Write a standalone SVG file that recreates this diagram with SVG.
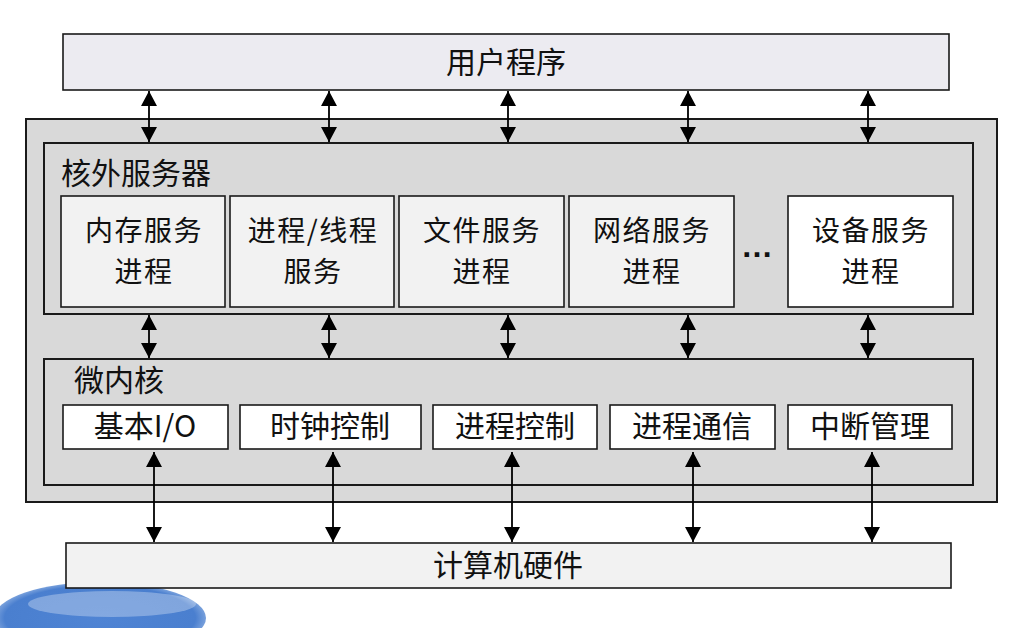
<svg xmlns="http://www.w3.org/2000/svg" width="1034" height="628" viewBox="0 0 1034 628">
<defs>
<style>
.t{font-family:"Noto Sans CJK SC","Noto Sans",sans-serif;font-size:30px;fill:#111;text-anchor:middle}
.t2{font-family:"Noto Sans CJK SC","Noto Sans",sans-serif;font-size:28px;fill:#111;text-anchor:middle;letter-spacing:1.5px}
.tl{font-family:"Noto Sans CJK SC","Noto Sans",sans-serif;font-size:30px;fill:#111}
.bx{stroke:#1a1a1a;stroke-width:2}
.sv{fill:#f2f2f2;stroke:#1a1a1a;stroke-width:1.6}
.wb{fill:#ffffff;stroke:#1a1a1a;stroke-width:1.6}
.ar{stroke:#000;stroke-width:1.8;fill:none;marker-start:url(#ah);marker-end:url(#ah)}
</style>
<marker id="ah" viewBox="0 0 15 16" refX="15" refY="8" markerWidth="15" markerHeight="16" markerUnits="userSpaceOnUse" orient="auto-start-reverse">
<path d="M0,0 L15,8 L0,16 z" fill="#000"/>
</marker>
<radialGradient id="blob" cx="0.5" cy="0.5" r="0.6">
<stop offset="0" stop-color="#4f84d4"/>
<stop offset="0.75" stop-color="#4a7fcf"/>
<stop offset="1" stop-color="#d5e3f5"/>
</radialGradient>
</defs>

<g id="decor">
<ellipse cx="100" cy="618" rx="106" ry="36" fill="url(#blob)"/>
<ellipse cx="112" cy="604" rx="84" ry="13" fill="#ffffff" opacity="0.3"/>
</g>

<g id="user">
<rect x="63" y="34" width="886" height="56" fill="#ecebf1" stroke="#1a1a1a" stroke-width="1.6"/>
<text class="t" x="506" y="73">用户程序</text>
</g>

<g id="kernel-outer">
<rect x="26" y="119" width="971" height="383" fill="#d9d9d9" class="bx"/>
</g>

<g id="servers">
<rect x="44" y="143" width="929" height="171" fill="#d9d9d9" class="bx"/>
<text class="tl" x="61" y="184">核外服务器</text>
</g>

<g id="mem-svc">
<rect x="61" y="196" width="164" height="111" class="sv"/>
<text class="t2" x="144" y="241">内存服务</text>
<text class="t2" x="144" y="282">进程</text>
</g>
<g id="proc-svc">
<rect x="230" y="196" width="164" height="111" class="sv"/>
<text class="t2" x="313" y="241">进程/线程</text>
<text class="t2" x="313" y="282">服务</text>
</g>
<g id="file-svc">
<rect x="399" y="196" width="165" height="111" class="sv"/>
<text class="t2" x="482" y="241">文件服务</text>
<text class="t2" x="482" y="282">进程</text>
</g>
<g id="net-svc">
<rect x="569" y="196" width="165" height="111" class="sv"/>
<text class="t2" x="652" y="241">网络服务</text>
<text class="t2" x="652" y="282">进程</text>
</g>
<g id="dots">
<text x="757" y="257" font-family="Liberation Sans, sans-serif" font-size="32" font-weight="bold" text-anchor="middle" fill="#111">…</text>
</g>
<g id="dev-svc">
<rect x="788" y="196" width="165" height="111" class="wb"/>
<text class="t2" x="871" y="241">设备服务</text>
<text class="t2" x="871" y="282">进程</text>
</g>

<g id="micro">
<rect x="44" y="359" width="929" height="126" fill="#d9d9d9" class="bx"/>
<text class="tl" x="74" y="391">微内核</text>
</g>

<g id="basic-io">
<rect x="63" y="405" width="165" height="44" class="wb"/>
<text class="t" x="145" y="437">基本I/O</text>
</g>
<g id="clock">
<rect x="240" y="405" width="181" height="44" class="wb"/>
<text class="t" x="330" y="437">时钟控制</text>
</g>
<g id="proc-ctl">
<rect x="433" y="405" width="164" height="44" class="wb"/>
<text class="t" x="515" y="437">进程控制</text>
</g>
<g id="ipc">
<rect x="610" y="405" width="165" height="44" class="wb"/>
<text class="t" x="692" y="437">进程通信</text>
</g>
<g id="irq">
<rect x="788" y="405" width="164" height="44" class="wb"/>
<text class="t" x="870" y="437">中断管理</text>
</g>

<g id="hardware">
<rect x="66" y="543" width="885" height="45" class="sv"/>
<text class="t" x="508" y="576">计算机硬件</text>
</g>

<g id="connectors">
<line class="ar" x1="149" y1="91" x2="149" y2="142"/>
<line class="ar" x1="329" y1="91" x2="329" y2="142"/>
<line class="ar" x1="508" y1="91" x2="508" y2="142"/>
<line class="ar" x1="688" y1="91" x2="688" y2="142"/>
<line class="ar" x1="868" y1="91" x2="868" y2="142"/>

<line class="ar" x1="149" y1="315" x2="149" y2="358"/>
<line class="ar" x1="329" y1="315" x2="329" y2="358"/>
<line class="ar" x1="508" y1="315" x2="508" y2="358"/>
<line class="ar" x1="688" y1="315" x2="688" y2="358"/>
<line class="ar" x1="868" y1="315" x2="868" y2="358"/>

<line class="ar" x1="154" y1="452" x2="154" y2="542"/>
<line class="ar" x1="333" y1="452" x2="333" y2="542"/>
<line class="ar" x1="512" y1="452" x2="512" y2="542"/>
<line class="ar" x1="693" y1="452" x2="693" y2="542"/>
<line class="ar" x1="872" y1="452" x2="872" y2="542"/>
</g>
</svg>
